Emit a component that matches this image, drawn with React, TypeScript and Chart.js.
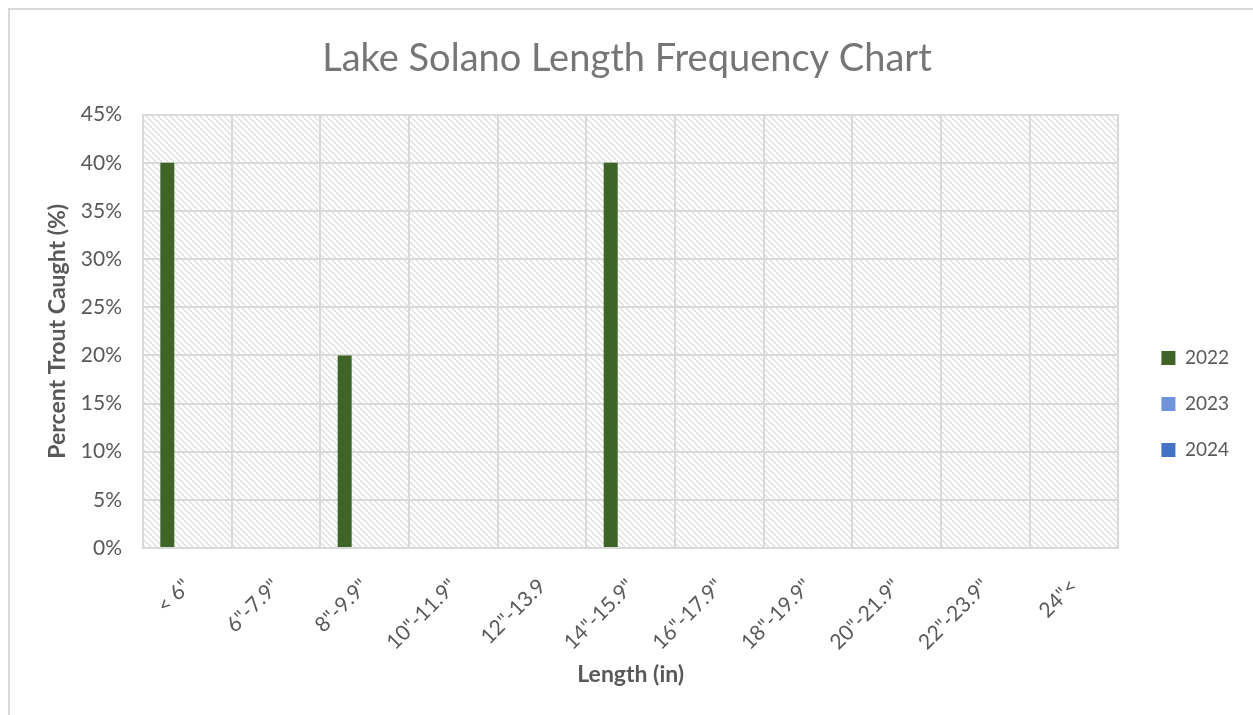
import React, { useEffect, useRef } from "react";
import { Chart, registerables } from "chart.js";

Chart.register(...registerables);

const categories = ['< 6"', '6"-7.9"', '8"-9.9"', '10"-11.9"', '12"-13.9', '14"-15.9"', '16"-17.9"', '18"-19.9"', '20"-21.9"', '22"-23.9"', '24"<'];
const series2022 = [40, 0, 20, 0, 0, 40, 0, 0, 0, 0, 0];
const series2023 = [0, 0, 0, 0, 0, 0, 0, 0, 0, 0, 0];
const series2024 = [0, 0, 0, 0, 0, 0, 0, 0, 0, 0, 0];
const yTicks = [0, 5, 10, 15, 20, 25, 30, 35, 40, 45];

const FONT = "Lato, 'Open Sans', sans-serif";
const TEXT = "#595959";
const GRID = "#d9d9d9";

function makeHatch(ctx: CanvasRenderingContext2D): CanvasPattern | string {
  const c = document.createElement("canvas");
  const s = 6;
  c.width = s;
  c.height = s;
  const g = c.getContext("2d");
  if (!g) return "#fff";
  g.fillStyle = "#ffffff";
  g.fillRect(0, 0, s, s);
  g.strokeStyle = "#dedede";
  g.lineWidth = 1.3;
  g.beginPath();
  g.moveTo(-1, -1);
  g.lineTo(s + 1, s + 1);
  g.moveTo(-1, s - 1);
  g.lineTo(1, s + 1);
  g.moveTo(s - 1, -1);
  g.lineTo(s + 1, 1);
  g.stroke();
  return ctx.createPattern(c, "repeat") || "#fff";
}

const hatchPlugin = {
  id: "hatchBg",
  beforeDraw(chart: any) {
    const { ctx, chartArea } = chart;
    if (!chartArea) return;
    ctx.save();
    ctx.fillStyle = makeHatch(ctx);
    ctx.fillRect(chartArea.left, chartArea.top, chartArea.right - chartArea.left, chartArea.bottom - chartArea.top);
    ctx.restore();
  },
};

export default function App() {
  const ref = useRef<HTMLCanvasElement>(null);
  useEffect(() => {
    if (!ref.current) return;
    const chart = new Chart(ref.current, {
      type: "bar",
      data: {
        labels: categories,
        datasets: [
          { label: "2022", data: series2022, backgroundColor: "#3e6428" },
          { label: "2023", data: series2023, backgroundColor: "#6f94d9" },
          { label: "2024", data: series2024, backgroundColor: "#4472c4" },
        ],
      },
      options: {
        animation: false,
        responsive: false,
        maintainAspectRatio: false,
        datasets: { bar: { categoryPercentage: 0.677, barPercentage: 0.7 } },
        layout: { padding: { left: 5, right: 14, top: 0, bottom: 27 } },
        plugins: {
          title: {
            display: true,
            text: "Lake Solano Length Frequency Chart",
            color: "#767676",
            font: { family: FONT, size: 38, weight: "normal" },
            padding: { top: 26, bottom: 33 },
          },
          legend: {
            position: "right",
            title: { display: true, text: "", font: { size: 10 }, padding: { top: 49, bottom: 49 } },
            labels: {
              color: TEXT,
              font: { family: FONT, size: 19 },
              boxWidth: 14,
              boxHeight: 14,
              padding: 27,
            },
          },
          tooltip: { enabled: false },
        },
        scales: {
          x: {
            grid: { color: GRID, lineWidth: 2, drawTicks: false, offset: true },
            border: { color: GRID, width: 2 },
            ticks: {
              color: TEXT,
              font: { family: FONT, size: 21 },
              maxRotation: 45,
              minRotation: 45,
              padding: 26,
              autoSkip: false,
            },
            title: {
              display: true,
              text: "Length (in)",
              color: TEXT,
              font: { family: FONT, size: 23, weight: "bold" },
              padding: { top: 0, bottom: 0 },
            },
            afterFit: (s: any) => {
              s.paddingLeft = 0;
              s.paddingRight = 0;
              s.height = 140;
            },
          },
          y: {
            min: 0,
            max: 45,
            afterBuildTicks: (s: any) => {
              s.ticks = yTicks.map((v) => ({ value: v }));
            },
            grid: { color: GRID, lineWidth: 2, drawTicks: false },
            border: { color: GRID, width: 2 },
            ticks: {
              color: TEXT,
              font: { family: FONT, size: 21 },
              padding: 21,
              callback: (v: any) => `${v}%`,
            },
            title: {
              display: true,
              text: "Percent Trout Caught (%)",
              color: TEXT,
              font: { family: FONT, size: 23, weight: "bold" },
              padding: { top: 29, bottom: 0 },
            },
            afterFit: (s: any) => {
              s.width = 128;
            },
          },
          gap: {
            type: "linear",
            position: "right",
            display: true,
            grid: { display: false, drawTicks: false },
            border: { display: false },
            ticks: { display: false },
            afterFit: (s: any) => {
              s.width = 16;
            },
          },
        },
      },
      plugins: [hatchPlugin],
    } as any);
    return () => chart.destroy();
  }, []);

  return (
    <div
      style={{
        position: "fixed",
        left: 8,
        top: 8,
        width: 1245,
        height: 707,
        borderTop: `2px solid ${GRID}`,
        borderLeft: `2px solid ${GRID}`,
        boxSizing: "border-box",
        background: "#fff",
      }}
    >
      <canvas ref={ref} width={1243} height={705} style={{ display: "block" }} />
    </div>
  );
}
